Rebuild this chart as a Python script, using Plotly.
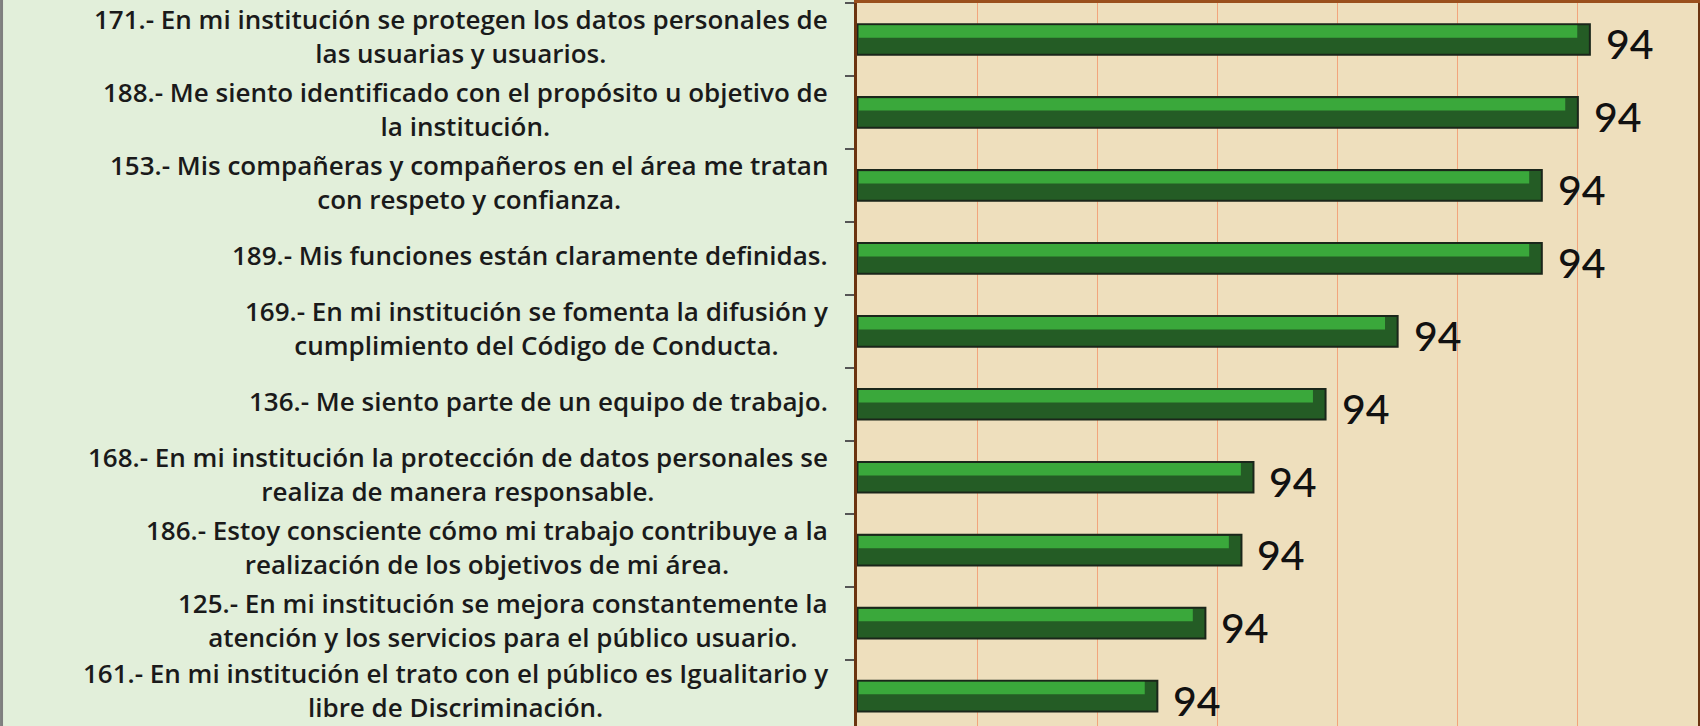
import plotly.graph_objects as go

# ---- data ----
question_ids = ["171", "188", "153", "189", "169", "136", "168", "186", "125", "161"]
statements = [
    "En mi institución se protegen los datos personales de<br>las usuarias y usuarios.",
    "Me siento identificado con el propósito u objetivo de<br>la institución.",
    "Mis compañeras y compañeros en el área me tratan<br>con respeto y confianza.",
    "Mis funciones están claramente definidas.",
    "En mi institución se fomenta la difusión y<br>cumplimiento del Código de Conducta.",
    "Me siento parte de un equipo de trabajo.",
    "En mi institución la protección de datos personales se<br>realiza de manera responsable.",
    "Estoy consciente cómo mi trabajo contribuye a la<br>realización de los objetivos de mi área.",
    "En mi institución se mejora constantemente la<br>atención y los servicios para el público usuario.",
    "En mi institución el trato con el público es Igualitario y<br>libre de Discriminación.",
]
values = [94.21, 94.20, 94.17, 94.17, 94.05, 93.99, 93.93, 93.92, 93.89, 93.85]
x_range = [93.6, 94.3]

labels = [f"{q}.- {s}" for q, s in zip(question_ids, statements)]
cats = [f"Q{q}" for q in question_ids]
base0 = x_range[0]

fig = go.Figure()
# dark body of the bar with outline
fig.add_trace(go.Bar(
    y=cats, x=[v - base0 for v in values], orientation="h",
    base=base0,
    width=0.42,
    marker=dict(color="#245c25", line=dict(color="#1a261a", width=2)),
    hoverinfo="skip", showlegend=False,
))
# lighter upper bevel
fig.add_trace(go.Bar(
    y=cats, x=[v - base0 - 0.012 for v in values], orientation="h",
    base=base0 + 0.0015,
    width=0.17, offset=-0.195,
    marker=dict(color="#3aa83b", line=dict(width=0)),
    hoverinfo="skip", showlegend=False,
))

annotations = []
# value labels
for i, v in enumerate(values):
    annotations.append(dict(
        x=v, y=i, xref="x", yref="y", text=f"{v:.0f}", showarrow=False,
        xanchor="left", yanchor="middle", xshift=14, yshift=-4,
        font=dict(family="Lato", size=41, color="#111111", weight=500),
    ))
# category labels (centered lines, right aligned block)
n = len(labels)
for i, lab in enumerate(labels):
    annotations.append(dict(
        x=-0.032, y=i, xref="paper", yref="y", text=lab, showarrow=False,
        xanchor="right", yanchor="middle", align="center",
        yshift=6 if i == n - 1 else 3,
        font=dict(family="Open Sans", size=26, color="#1a1a1a", weight=600),
    ))

fig.update_layout(
    width=1700, height=726,
    margin=dict(l=857, r=2, t=3, b=0),
    paper_bgcolor="#e2efda",
    plot_bgcolor="#eedfbd",
    barmode="overlay",
    annotations=annotations,
    shapes=[dict(type="line", xref="paper", yref="paper",
                 x0=-1.0172, x1=-1.0172, y0=-0.01, y1=1.01,
                 line=dict(color="#7f7f7f", width=3))],
)
fig.update_xaxes(
    range=x_range, dtick=0.1, tick0=x_range[0],
    showgrid=True, gridcolor="#f2a57c", gridwidth=1,
    showticklabels=False, ticks="", zeroline=False,
    showline=True, mirror=True, linecolor="#9a4f1c", linewidth=3,
)
fig.update_yaxes(
    type="category", categoryorder="array", categoryarray=cats,
    range=[9.41, -0.5],
    showticklabels=False, ticks="outside", tickson="boundaries",
    ticklen=9, tickcolor="#555555", tickwidth=1.5,
    showgrid=False, zeroline=False,
    showline=True, mirror=True, linecolor="#6b3410", linewidth=3,
)

fig.write_html("out.html", config={"displayModeBar": False},
               post_script="document.body.style.margin='0';document.body.style.overflow='hidden';")
